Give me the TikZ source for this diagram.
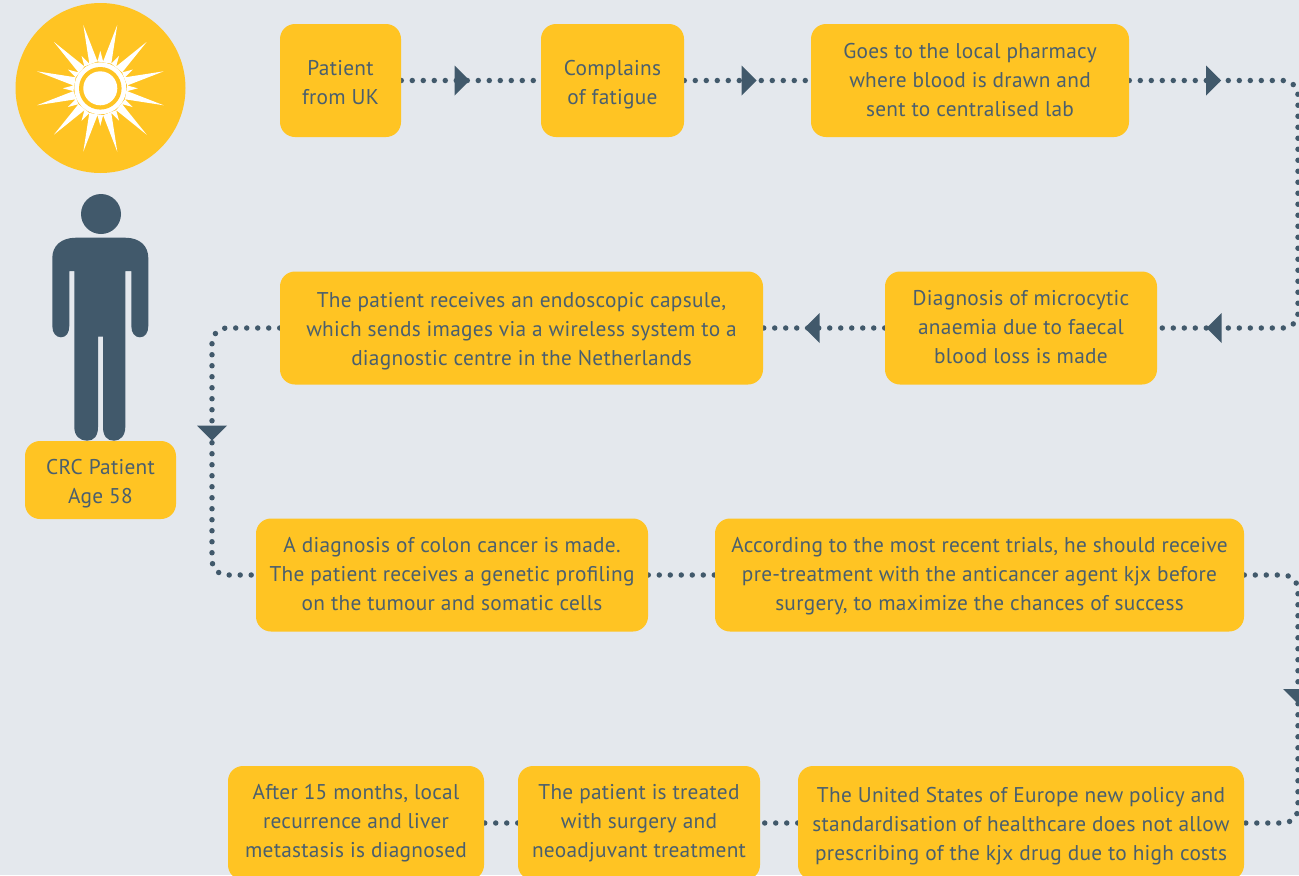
\documentclass[tikz,border=0pt]{standalone}
\usepackage{fontspec}
\setmainfont[LetterSpace=1.3]{PT Sans}
\usetikzlibrary{backgrounds}
\definecolor{bgc}{HTML}{E4E8ED}
\definecolor{gold}{HTML}{FFC423}
\definecolor{slate}{HTML}{41596B}
\definecolor{txt}{HTML}{4A5F6E}
\def\tht{0}
\tikzset{
  x=0.75pt,y=-0.75pt,
  tht/.code={\def\tht{#1}},
  box/.style n args={2}{fill=gold,rounded corners=11.25pt,minimum width=#1*0.75pt,minimum height=#2*0.75pt,
    inner sep=0pt,align=center,text=txt,font=\fontsize{16}{21.75}\selectfont,
    execute at begin node={\rule[-5pt]{0pt}{\dimexpr\tht pt+5pt\relax}}},
  dots/.style={draw=slate,line width=4.1pt,line cap=round,dash pattern=on 0pt off 8.25pt,rounded corners=11.25pt},
  tipfill/.style={fill=slate}
}
\newcommand{\tip}[2]{\fill[tipfill,shift={(#1)},rotate=#2] (-7.5,-15) -- (7.5,0) -- (-7.5,15) -- cycle;}
\begin{document}
\begin{tikzpicture}
\useasboundingbox (0,0) rectangle (1299,875);
\clip (0,0) rectangle (1299,875);
% sun
\fill[gold] (100.5,88) circle[radius=85];
\begin{scope}[shift={(100.3,88.3)}]
\fill[white] foreach \k in {0,30,...,330}{
  (\k-6:27) -- (\k:37.5) -- (\k+6:27) -- (\k+15:65.6) -- (\k+24:27) -- cycle};
\fill[white] (0,0) circle[radius=26];
\fill[gold] (0,0) circle[radius=21.3];
\fill[white] (0,0) circle[radius=17];
\end{scope}
% person
\fill[slate] (101,214) circle[radius=20];
\fill[slate] (76,237.7) -- (125,237.7) .. controls (140,237.7) and (148.3,246) .. (148.3,258)
  -- (148.3,326) .. controls (148.3,333) and (145,337.3) .. (139.8,337.3)
  .. controls (135,337.3) and (131.3,333) .. (131.3,326) -- (131.3,271) -- (125.3,271)
  -- (125.3,427) .. controls (125.3,436) and (120,440.7) .. (114,440.7)
  .. controls (107,440.7) and (103,436) .. (103,427) -- (103,336.7) -- (98,336.7)
  -- (98,427) .. controls (98,436) and (94,440.7) .. (87,440.7)
  .. controls (80,440.7) and (74.3,436) .. (74.3,427) -- (74.3,271) -- (69.3,271)
  -- (69.3,326) .. controls (69.3,333) and (66,337.3) .. (61,337.3)
  .. controls (56,337.3) and (52.3,333) .. (52.3,326) -- (52.3,258)
  .. controls (52.3,246) and (61,237.7) .. (76,237.7) -- cycle;
% nodes
\node[box={151}{78},tht=40.55] (crc) at (100.5,480) {CRC Patient\\Age 58};
\node[box={121}{113},tht=41.3] (a1) at (340.5,80.5) {Patient\\from UK};
\node[box={143}{113},tht=41.3] (a2) at (612.5,80.5) {Complains\\of fatigue};
\node[box={318}{113},tht=59.3] (a3) at (970,80.5) {Goes to the local pharmacy\\where blood is drawn and\\sent to centralised lab};
\node[box={272}{113},tht=58.55] (b1) at (1021,328) {Diagnosis of microcytic\\anaemia due to faecal\\blood loss is made};
\node[box={483}{113},tht=61.55] (b2) at (521.5,328) {The patient receives an endoscopic capsule,\\which sends images via a wireless system to a\\diagnostic centre in the Netherlands};
\node[box={392}{113},tht=58.55] (c1) at (452,575) {A diagnosis of colon cancer is made.\\The patient receives a genetic profiling\\on the tumour and somatic cells};
\node[box={529}{113},tht=58.55] (c2) at (979.5,575) {According to the most recent trials, he should receive\\pre-treatment with the anticancer agent kjx before\\surgery, to maximize the chances of success};
\node[box={446}{114},tht=61.55] (d1) at (1021,823) {The United States of Europe new policy and\\standardisation of healthcare does not allow\\prescribing of the kjx drug due to high costs};
\node[box={242}{114},tht=57.05] (d2) at (639,823) {The patient is treated\\with surgery and\\neoadjuvant treatment};
\node[box={256}{114},tht=57.05] (d3) at (356,823) {After 15 months, local\\recurrence and liver\\metastasis is diagnosed};
\coordinate (rx) at (1298,0);
\coordinate (lx) at (212,0);
% connectors
\begin{scope}[on background layer]
\fill[bgc] (0,0) rectangle (1299,875);
\draw[dots] (a1) -- (a2);
\draw[dots] (a2) -- (a3);
\draw[dots] (a3.east) -- (a3.east -| rx) -- (b1.east -| rx) -- (b1.east);
\draw[dots] (b1) -- (b2);
\draw[dots] (b2.west) -- (b2.west -| lx) -- (c1.west -| lx) -- (c1.west);
\draw[dots] (c1) -- (c2);
\draw[dots] (c2.east) -- (c2.east -| rx) -- (d1.east -| rx) -- (d1.east);
\draw[dots] (d1) -- (d2);
\draw[dots] (d2) -- (d3);
\end{scope}
% arrow tips
\coordinate (t1) at (462,80.5);
\coordinate (t2) at (749,80.5);
\coordinate (t3) at (1213.5,80.5);
\coordinate (t4) at (1214,328);
\coordinate (t5) at (812,328);
\coordinate (t6) at (212,433);
\coordinate (t7) at (1298,696.5);
\tip{t1}{0}\tip{t2}{0}\tip{t3}{0}\tip{t4}{180}\tip{t5}{180}\tip{t6}{-90}\tip{t7}{-90}
\end{tikzpicture}
\end{document}
